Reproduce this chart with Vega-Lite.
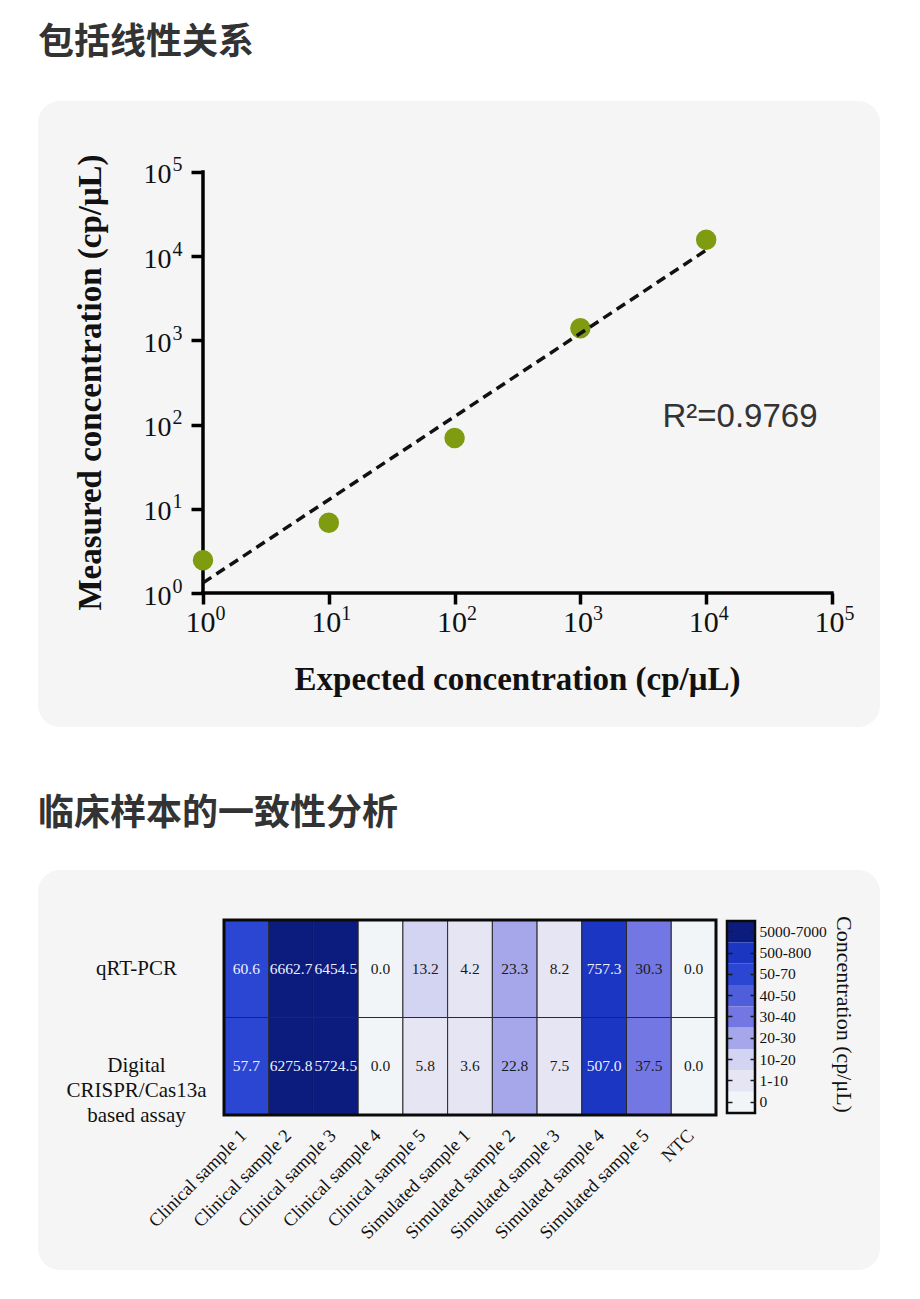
{
  "$schema": "https://vega.github.io/schema/vega-lite/v6.json",
  "background": "#ffffff",
  "padding": {"left": 38, "top": 25, "right": 40, "bottom": 10},
  "spacing": 69,
  "datasets": {
    "points": [
      {"expected": 1, "measured": 2.45},
      {"expected": 10, "measured": 6.85},
      {"expected": 100, "measured": 69.5},
      {"expected": 1000, "measured": 1390},
      {"expected": 10000, "measured": 15700}
    ],
    "fit": [
      {"expected": 1, "measured": 1.32},
      {"expected": 10000, "measured": 11800}
    ],
    "cells": [
      {"method": "qRT-PCR", "sample": "Clinical sample 1", "value": 60.6, "level": "50-70"},
      {"method": "qRT-PCR", "sample": "Clinical sample 2", "value": 6662.7, "level": "5000-7000"},
      {"method": "qRT-PCR", "sample": "Clinical sample 3", "value": 6454.5, "level": "5000-7000"},
      {"method": "qRT-PCR", "sample": "Clinical sample 4", "value": 0.0, "level": "0"},
      {"method": "qRT-PCR", "sample": "Clinical sample 5", "value": 13.2, "level": "10-20"},
      {"method": "qRT-PCR", "sample": "Simulated sample 1", "value": 4.2, "level": "1-10"},
      {"method": "qRT-PCR", "sample": "Simulated sample 2", "value": 23.3, "level": "20-30"},
      {"method": "qRT-PCR", "sample": "Simulated sample 3", "value": 8.2, "level": "1-10"},
      {"method": "qRT-PCR", "sample": "Simulated sample 4", "value": 757.3, "level": "500-800"},
      {"method": "qRT-PCR", "sample": "Simulated sample 5", "value": 30.3, "level": "30-40"},
      {"method": "qRT-PCR", "sample": "NTC", "value": 0.0, "level": "0"},
      {"method": "Digital CRISPR/Cas13a based assay", "sample": "Clinical sample 1", "value": 57.7, "level": "50-70"},
      {"method": "Digital CRISPR/Cas13a based assay", "sample": "Clinical sample 2", "value": 6275.8, "level": "5000-7000"},
      {"method": "Digital CRISPR/Cas13a based assay", "sample": "Clinical sample 3", "value": 5724.5, "level": "5000-7000"},
      {"method": "Digital CRISPR/Cas13a based assay", "sample": "Clinical sample 4", "value": 0.0, "level": "0"},
      {"method": "Digital CRISPR/Cas13a based assay", "sample": "Clinical sample 5", "value": 5.8, "level": "1-10"},
      {"method": "Digital CRISPR/Cas13a based assay", "sample": "Simulated sample 1", "value": 3.6, "level": "1-10"},
      {"method": "Digital CRISPR/Cas13a based assay", "sample": "Simulated sample 2", "value": 22.8, "level": "20-30"},
      {"method": "Digital CRISPR/Cas13a based assay", "sample": "Simulated sample 3", "value": 7.5, "level": "1-10"},
      {"method": "Digital CRISPR/Cas13a based assay", "sample": "Simulated sample 4", "value": 507.0, "level": "500-800"},
      {"method": "Digital CRISPR/Cas13a based assay", "sample": "Simulated sample 5", "value": 37.5, "level": "30-40"},
      {"method": "Digital CRISPR/Cas13a based assay", "sample": "NTC", "value": 0.0, "level": "0"}
    ],
    "legend": [
      {"level": "5000-7000"},
      {"level": "500-800"},
      {"level": "50-70"},
      {"level": "40-50"},
      {"level": "30-40"},
      {"level": "20-30"},
      {"level": "10-20"},
      {"level": "1-10"},
      {"level": "0"}
    ]
  },
  "vconcat": [
    {
      "title": {"text": "包括线性关系", "anchor": "start", "font": "Noto Sans CJK SC", "fontSize": 36, "fontWeight": "bold", "color": "#333333", "offset": 39},
      "width": 842,
      "height": 626,
      "view": {"fill": "#f5f5f5", "cornerRadius": 22, "stroke": null},
      "resolve": {"axis": {"x": "independent", "y": "independent"}},
      "layer": [
        {
          "data": {"values": [{}]},
          "mark": {"type": "rule", "strokeWidth": 3.5, "color": "#000000", "strokeCap": "square"},
          "encoding": {
            "x": {"datum": 1, "type": "quantitative", "scale": {"type": "log", "domain": [0.0488, 240800], "nice": false, "zero": false},
              "axis": {"orient": "bottom", "offset": -134, "values": [1, 10, 100, 1000, 10000, 100000], "domain": false, "ticks": false, "grid": false,
                "labelExpr": "'' + round(log(datum.value)/LN10)",
                "labelFont": "Liberation Serif", "labelFontSize": 20, "labelColor": "#111111", "labelAlign": "left", "labelBaseline": "top", "labelOffset": 12, "labelPadding": 10,
                "labelFlush": false, "labelOverlap": false, "title": null}},
            "x2": {"datum": 100000},
            "y": {"datum": 1, "type": "quantitative", "scale": {"type": "log", "domain": [0.02563, 696900], "nice": false, "zero": false}, "axis": null}
          }
        },
        {
          "data": {"values": [{}]},
          "mark": {"type": "rule", "strokeWidth": 3.5, "color": "#000000", "strokeCap": "square"},
          "encoding": {
            "x": {"datum": 1, "type": "quantitative", "scale": {"type": "log", "domain": [0.0488, 240800], "nice": false, "zero": false}, "axis": null},
            "y": {"datum": 1, "type": "quantitative", "scale": {"type": "log", "domain": [0.02563, 696900], "nice": false, "zero": false},
              "axis": {"orient": "left", "offset": -165, "values": [1, 10, 100, 1000, 10000, 100000], "domain": false, "ticks": false, "grid": false,
                "labelExpr": "'' + round(log(datum.value)/LN10)",
                "labelFont": "Liberation Serif", "labelFontSize": 20, "labelColor": "#111111", "labelAlign": "right", "labelBaseline": "middle", "labelOffset": -7, "labelPadding": 21,
                "labelFlush": false, "labelOverlap": false, "title": null}},
            "y2": {"datum": 100000}
          }
        },
        {
          "data": {"name": "points"},
          "mark": {"type": "circle", "size": 420, "color": "#7f9b0f", "opacity": 1},
          "encoding": {
            "x": {"field": "expected", "type": "quantitative",
              "scale": {"type": "log", "domain": [0.0488, 240800], "nice": false, "zero": false},
              "axis": {"orient": "bottom", "offset": -134, "values": [1, 10, 100, 1000, 10000, 100000], "domain": false, "grid": false,
                "tickSize": 11, "tickWidth": 3.5, "tickColor": "#000000",
                "labelExpr": "'10'",
                "labelFont": "Liberation Serif", "labelFontSize": 30, "labelColor": "#111111", "labelPadding": 3, "labelAlign": "center", "labelBaseline": "top", "labelOffset": -3, "labelFlush": false, "labelOverlap": false,
                "title": "Expected concentration (cp/μL)", "titleFont": "Liberation Serif", "titleFontSize": 33, "titleFontWeight": "bold", "titleColor": "#111111",
                "titleX": 479, "titleY": 96, "titleBaseline": "alphabetic", "titleAlign": "center"}},
            "y": {"field": "measured", "type": "quantitative",
              "scale": {"type": "log", "domain": [0.02563, 696900], "nice": false, "zero": false},
              "axis": {"orient": "left", "offset": -165, "values": [1, 10, 100, 1000, 10000, 100000], "domain": false, "grid": false,
                "tickSize": 12, "tickWidth": 3.5, "tickColor": "#000000",
                "labelExpr": "'10'",
                "labelFont": "Liberation Serif", "labelFontSize": 28, "labelColor": "#111111", "labelPadding": 20, "labelAlign": "right", "labelBaseline": "middle", "labelOffset": 3, "labelFlush": false, "labelOverlap": false,
                "title": "Measured concentration (cp/μL)", "titleFont": "Liberation Serif", "titleFontSize": 33, "titleFontWeight": "bold", "titleColor": "#111111",
                "titleAngle": -90, "titleX": -103, "titleY": 281, "titleBaseline": "alphabetic", "titleAlign": "center"}}
          }
        },
        {
          "data": {"name": "fit"},
          "mark": {"type": "line", "strokeDash": [10, 6], "strokeWidth": 3.5, "color": "#111111"},
          "encoding": {
            "x": {"field": "expected", "type": "quantitative", "scale": {"type": "log", "domain": [0.0488, 240800], "nice": false, "zero": false}, "axis": null},
            "y": {"field": "measured", "type": "quantitative", "scale": {"type": "log", "domain": [0.02563, 696900], "nice": false, "zero": false}, "axis": null}
          }
        },
        {
          "data": {"values": [{}]},
          "mark": {"type": "text", "text": "R²=0.9769", "font": "Liberation Sans", "fontSize": 33, "color": "#333333", "align": "center", "baseline": "middle"},
          "encoding": {
            "x": {"datum": 18560, "type": "quantitative", "scale": {"type": "log", "domain": [0.0488, 240800], "nice": false, "zero": false}, "axis": null},
            "y": {"datum": 123, "type": "quantitative", "scale": {"type": "log", "domain": [0.02563, 696900], "nice": false, "zero": false}, "axis": null}
          }
        }
      ]
    },
    {
      "title": {"text": "临床样本的一致性分析", "anchor": "start", "font": "Noto Sans CJK SC", "fontSize": 36, "fontWeight": "bold", "color": "#333333", "offset": 37},
      "width": 842,
      "height": 400,
      "view": {"fill": "#f5f5f5", "cornerRadius": 22, "stroke": null},
      "resolve": {"scale": {"x": "independent", "y": "independent"}},
      "layer": [
        {
          "data": {"name": "cells"},
          "layer": [
            {
              "mark": {"type": "rect", "stroke": "#2a2a2a", "strokeWidth": 1},
              "encoding": {
                "x": {"field": "sample", "type": "nominal",
                  "scale": {"domain": ["Clinical sample 1", "Clinical sample 2", "Clinical sample 3", "Clinical sample 4", "Clinical sample 5", "Simulated sample 1", "Simulated sample 2", "Simulated sample 3", "Simulated sample 4", "Simulated sample 5", "NTC"], "range": [186, 678], "paddingInner": 0, "paddingOuter": 0},
                  "axis": {"orient": "bottom", "offset": -155, "domain": false, "ticks": false, "grid": false, "labelAngle": -45, "labelAlign": "right", "labelBaseline": "middle", "labelPadding": 17, "labelOffset": -3,
                    "labelFont": "Liberation Serif", "labelFontSize": 18.5, "labelColor": "#111111", "labelLimit": 300, "title": null}},
                "y": {"field": "method", "type": "nominal",
                  "scale": {"domain": ["qRT-PCR", "Digital CRISPR/Cas13a based assay"], "range": [50, 245], "paddingInner": 0, "paddingOuter": 0},
                  "axis": {"orient": "left", "offset": -186, "domain": false, "ticks": false, "grid": false, "labelAlign": "center", "labelBaseline": "middle", "labelPadding": 88,
                    "labelExpr": "datum.value == 'qRT-PCR' ? 'qRT-PCR' : ['Digital', 'CRISPR/Cas13a', 'based assay']",
                    "labelFont": "Liberation Serif", "labelFontSize": 21, "labelLineHeight": 25, "labelColor": "#111111", "labelLimit": 300, "title": null}},
                "color": {"field": "level", "type": "nominal",
                  "scale": {"domain": ["5000-7000", "500-800", "50-70", "40-50", "30-40", "20-30", "10-20", "1-10", "0"],
                    "range": ["#0c1c7e", "#1a36c3", "#2b46d3", "#4f5fdc", "#7377e3", "#a5a7ea", "#d3d3f2", "#e6e5f4", "#f2f5f7"]},
                  "legend": null}
              }
            },
            {
              "mark": {"type": "text", "font": "Liberation Serif", "fontSize": 15.5, "align": "center", "baseline": "middle"},
              "encoding": {
                "x": {"field": "sample", "type": "nominal",
                  "scale": {"domain": ["Clinical sample 1", "Clinical sample 2", "Clinical sample 3", "Clinical sample 4", "Clinical sample 5", "Simulated sample 1", "Simulated sample 2", "Simulated sample 3", "Simulated sample 4", "Simulated sample 5", "NTC"], "range": [186, 678], "paddingInner": 0, "paddingOuter": 0}},
                "y": {"field": "method", "type": "nominal",
                  "scale": {"domain": ["qRT-PCR", "Digital CRISPR/Cas13a based assay"], "range": [50, 245], "paddingInner": 0, "paddingOuter": 0}},
                "text": {"field": "value", "type": "quantitative", "format": ".1f"},
                "color": {"condition": {"test": "datum.value >= 50", "value": "#eef1ff"}, "value": "#1a1a1a"}
              }
            },
            {
              "data": {"values": [{}]},
              "mark": {"type": "rect", "fillOpacity": 0, "stroke": "#0a0a0a", "strokeWidth": 3},
              "encoding": {
                "x": {"datum": "Clinical sample 1", "type": "nominal", "bandPosition": 0,
                  "scale": {"domain": ["Clinical sample 1", "Clinical sample 2", "Clinical sample 3", "Clinical sample 4", "Clinical sample 5", "Simulated sample 1", "Simulated sample 2", "Simulated sample 3", "Simulated sample 4", "Simulated sample 5", "NTC"], "range": [186, 678], "paddingInner": 0, "paddingOuter": 0}},
                "x2": {"datum": "NTC", "bandPosition": 1},
                "y": {"datum": "qRT-PCR", "type": "nominal", "bandPosition": 0,
                  "scale": {"domain": ["qRT-PCR", "Digital CRISPR/Cas13a based assay"], "range": [50, 245], "paddingInner": 0, "paddingOuter": 0}},
                "y2": {"datum": "Digital CRISPR/Cas13a based assay", "bandPosition": 1}
              }
            }
          ]
        },
        {
          "data": {"name": "legend"},
          "resolve": {"axis": {"y": "independent"}},
          "layer": [
            {
              "mark": {"type": "rect"},
              "encoding": {
                "x": {"datum": "bar", "type": "nominal", "scale": {"domain": ["bar"], "range": [689, 717], "paddingInner": 0, "paddingOuter": 0},
                  "axis": {"orient": "bottom", "labels": false, "ticks": false, "domain": false, "grid": false, "title": null}},
                "y": {"field": "level", "type": "nominal",
                  "scale": {"domain": ["5000-7000", "500-800", "50-70", "40-50", "30-40", "20-30", "10-20", "1-10", "0"], "range": [51, 243], "paddingInner": 0, "paddingOuter": 0},
                  "axis": {"orient": "right", "offset": -125, "domain": false, "ticks": true, "grid": false, "tickSize": -5, "tickWidth": 1.5, "tickColor": "#1a1a1a",
                    "labelFont": "Liberation Serif", "labelFontSize": 15.5, "labelColor": "#111111", "labelPadding": 9, "labelBaseline": "middle",
                    "title": "Concentration (cp/μL)", "titleFont": "Liberation Serif", "titleFontSize": 22, "titleFontWeight": "normal", "titleColor": "#111111",
                    "titleAngle": 90, "titleX": 81, "titleY": 144, "titleBaseline": "alphabetic", "titleAlign": "center"}},
                "color": {"field": "level", "type": "nominal",
                  "scale": {"domain": ["5000-7000", "500-800", "50-70", "40-50", "30-40", "20-30", "10-20", "1-10", "0"],
                    "range": ["#0c1c7e", "#1a36c3", "#2b46d3", "#4f5fdc", "#7377e3", "#a5a7ea", "#d3d3f2", "#e6e5f4", "#f2f5f7"]},
                  "legend": null}
              }
            },
            {
              "data": {"values": [{}]},
              "mark": {"type": "rect", "fillOpacity": 0, "stroke": "#0a0a0a", "strokeWidth": 2.5},
              "encoding": {
                "x": {"datum": "bar", "type": "nominal", "bandPosition": 0, "scale": {"domain": ["bar"], "range": [689, 717], "paddingInner": 0, "paddingOuter": 0}},
                "x2": {"datum": "bar", "bandPosition": 1},
                "y": {"datum": "5000-7000", "type": "nominal", "bandPosition": 0,
                  "scale": {"domain": ["5000-7000", "500-800", "50-70", "40-50", "30-40", "20-30", "10-20", "1-10", "0"], "range": [51, 243], "paddingInner": 0, "paddingOuter": 0},
                  "axis": {"orient": "left", "offset": -689, "domain": false, "ticks": true, "grid": false, "tickSize": -5, "tickWidth": 1.5, "tickColor": "#1a1a1a", "labels": false, "title": null}},
                "y2": {"datum": "0", "bandPosition": 1}
              }
            }
          ]
        }
      ]
    }
  ],
  "config": {"view": {"stroke": null}, "axis": {"grid": false}}
}
